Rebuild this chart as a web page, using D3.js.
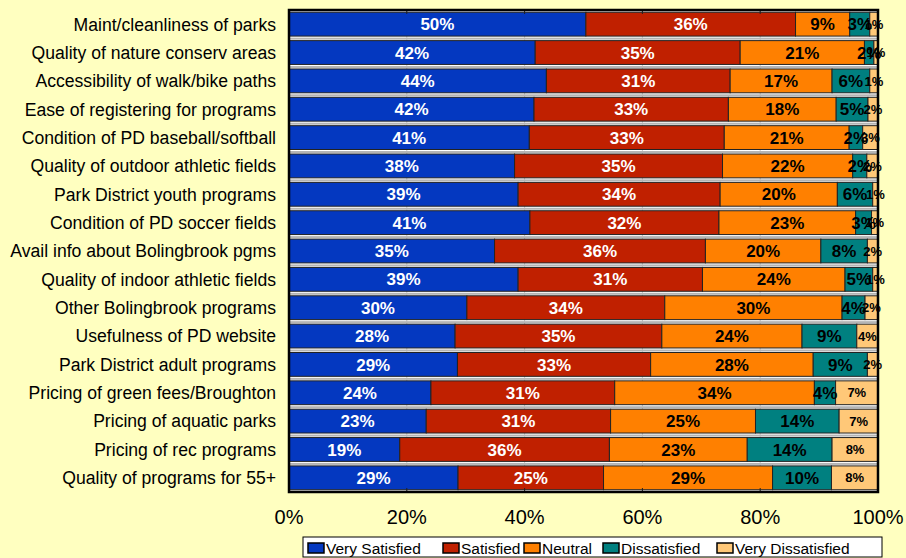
<!DOCTYPE html>
<html>
<head>
<meta charset="utf-8">
<script src="https://cdn.jsdelivr.net/npm/d3@7"></script>
<style>
  body { margin: 0; background: #ffffc0; }
  svg { display: block; font-family: "Liberation Sans", Arial, sans-serif; }
</style>
</head>
<body>
<div id="graphicContainer"></div>
<script>
// survey items, top to bottom
var categories = [
  "Maint/cleanliness of parks",
  "Quality of nature conserv areas",
  "Accessibility of walk/bike paths",
  "Ease of registering for programs",
  "Condition of PD baseball/softball",
  "Quality of outdoor athletic fields",
  "Park District youth programs",
  "Condition of PD soccer fields",
  "Avail info about Bolingbrook pgms",
  "Quality of indoor athletic fields",
  "Other Bolingbrook programs",
  "Usefulness of PD website",
  "Park District adult programs",
  "Pricing of green fees/Broughton",
  "Pricing of aquatic parks",
  "Pricing of rec programs",
  "Quality of programs for 55+"
];

var seriesNames = ["Very Satisfied", "Satisfied", "Neutral", "Dissatisfied", "Very Dissatisfied"];
var seriesColors = ["#0438c0", "#c02000", "#ff8000", "#008080", "#ffc878"];

// percentages per series, same order as categories
var verySatisfied    = [50.4, 41.8, 43.7, 41.6, 40.8, 38.3, 38.9, 40.9, 34.9, 38.9, 30.2, 28.2, 28.6, 24.1, 23.3, 18.8, 28.7];
var satisfied        = [35.6, 34.8, 31.2, 33.0, 33.1, 35.3, 34.3, 32.1, 35.8, 31.3, 33.6, 35.1, 32.8, 31.2, 31.3, 35.6, 24.7];
var neutral          = [ 9.2, 21.1, 17.3, 18.3, 21.2, 22.1, 19.9, 23.2, 19.6, 24.2, 30.1, 23.8, 27.6, 33.9, 24.6, 23.4, 28.7];
var dissatisfied     = [ 3.4,  1.6,  6.4,  5.4,  2.3,  2.4,  6.0,  2.7,  7.9,  4.7,  3.9,  9.3,  9.2,  3.6, 14.2, 14.4, 10.0];
var veryDissatisfied = [ 1.4,  0.7,  1.4,  1.7,  2.6,  1.9,  0.9,  1.1,  1.8,  0.9,  2.2,  3.6,  1.8,  7.2,  6.6,  7.8,  7.9];

var xTicks = [0, 20, 40, 60, 80, 100];

var width = 906, height = 558;
var margin = {top: 10, right: 28, bottom: 66, left: 289};
var w = width - margin.left - margin.right;
var h = height - margin.top - margin.bottom;

var rows = categories.map(function(c, i) {
  return {cat: c, vals: [verySatisfied[i], satisfied[i], neutral[i], dissatisfied[i], veryDissatisfied[i]]};
});

var svg = d3.select("#graphicContainer").append("svg")
  .attr("width", width)
  .attr("height", height);

var g = svg.append("g").attr("transform", "translate(" + margin.left + "," + margin.top + ")");

var x = d3.scaleLinear().domain([0, 100]).range([0, w]);
var y = d3.scaleBand().domain(categories).range([0, h]).paddingInner(0.16).paddingOuter(0.08);

// plot background
g.append("rect").attr("width", w).attr("height", h).attr("fill", "#ffffff");

// light grid
g.selectAll(".grid").data(xTicks.slice(1, -1)).enter().append("line")
  .attr("x1", d => x(d)).attr("x2", d => x(d))
  .attr("y1", 0).attr("y2", h)
  .attr("stroke", "#c8c8c8").attr("stroke-width", 1);

var row = g.selectAll(".row").data(rows).enter().append("g")
  .attr("transform", d => "translate(0," + y(d.cat) + ")");

// grey shadow strip just above each bar
row.append("rect")
  .attr("x", 0).attr("y", -3)
  .attr("width", w).attr("height", 2)
  .attr("fill", "#b4b4b4");

row.each(function(d) {
  var acc = 0;
  var segs = d.vals.map(function(v, k) {
    var s = {k: k, x0: acc, x1: acc + v, v: v};
    acc += v;
    return s;
  });
  var r = d3.select(this);
  r.selectAll("rect.seg").data(segs).enter().append("rect")
    .attr("class", "seg")
    .attr("x", s => x(s.x0))
    .attr("width", s => x(s.x1) - x(s.x0))
    .attr("y", 0)
    .attr("height", y.bandwidth())
    .attr("fill", s => seriesColors[s.k])
    .attr("stroke", "#222")
    .attr("stroke-width", 1);
  r.selectAll("text").data(segs).enter().append("text")
    .attr("x", s => x((s.x0 + s.x1) / 2))
    .attr("y", y.bandwidth() / 2)
    .attr("dy", "0.36em")
    .attr("text-anchor", "middle")
    .attr("font-weight", "bold")
    .attr("font-size", s => s.k === 4 ? 13 : 17)
    .attr("fill", s => s.k < 2 ? "#ffffff" : "#000000")
    .text(s => Math.round(s.v) + "%");
});

// tick marks on top and bottom edges
xTicks.slice(1, -1).forEach(function(t) {
  g.append("line").attr("x1", x(t)).attr("x2", x(t)).attr("y1", 0).attr("y2", 4).attr("stroke", "#222");
  g.append("line").attr("x1", x(t)).attr("x2", x(t)).attr("y1", h - 4).attr("y2", h).attr("stroke", "#222");
});

// frame
g.append("rect").attr("width", w).attr("height", h)
  .attr("fill", "none").attr("stroke", "#000").attr("stroke-width", 2.5);

// category labels
g.selectAll(".cat").data(categories).enter().append("text")
  .attr("x", -13)
  .attr("y", d => y(d) + y.bandwidth() / 2)
  .attr("dy", "0.36em")
  .attr("text-anchor", "end")
  .attr("font-size", 17.6)
  .attr("fill", "#000")
  .text(d => d);

// x axis labels
g.selectAll(".xt").data(xTicks).enter().append("text")
  .attr("x", d => x(d))
  .attr("y", h + 32)
  .attr("text-anchor", "middle")
  .attr("font-size", 20)
  .attr("fill", "#000")
  .text(d => d + "%");

// legend
var leg = svg.append("g").attr("transform", "translate(303,537)");
leg.append("rect").attr("width", 579).attr("height", 20)
  .attr("fill", "#fff").attr("stroke", "#000").attr("stroke-width", 1);
var offs = [5, 140, 221, 300, 414];
seriesNames.forEach(function(n, k) {
  var it = leg.append("g").attr("transform", "translate(" + offs[k] + ",0)");
  it.append("rect").attr("x", 0).attr("y", 6).attr("width", 16).attr("height", 10)
    .attr("fill", seriesColors[k]).attr("stroke", "#000").attr("stroke-width", 1.5);
  it.append("text").attr("x", 18).attr("y", 16.5).attr("font-size", 15.5).attr("fill", "#000").text(n);
});
</script>
</body>
</html>
